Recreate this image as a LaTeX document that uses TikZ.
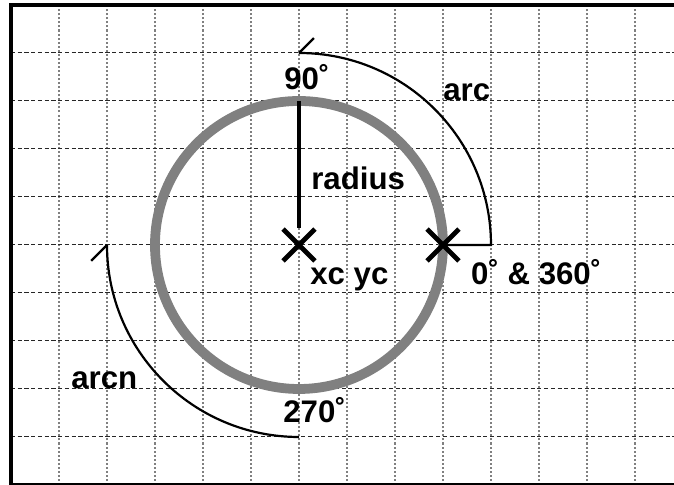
\documentclass[tikz,border=0pt]{standalone}
\usepackage{fontspec}
\setmainfont{Liberation Sans}
\begin{document}
\begin{tikzpicture}[x=1cm,y=1cm,
  lbl/.style={inner sep=0pt, anchor=base west, font=\fontsize{18.5}{20}\selectfont\bfseries},
  hgrid/.style={line width=0.6pt, dash pattern=on 2.4pt off 1.6pt, black!85},
  vgrid/.style={line width=0.8pt, dash pattern=on 1.2pt off 1.2pt, gray},
  ring/.style={line width=5.8pt, draw=gray},
  arcline/.style={line width=1.3pt},
  cross/.style={line width=2.8pt},
  frame/.style={line width=1.8pt}]
\useasboundingbox (-6.229,-5) rectangle (7.8125,5.104);
\clip (-6.229,-5) rectangle (7.8125,5.104);
% grid
\foreach \x in {-5,...,7} \draw[vgrid] (\x,-5) -- (\x,5);
\foreach \y in {-4,...,4} \draw[hgrid] (-6,\y) -- (8.5,\y);
% frame
\draw[frame] (8.5,-5) -- (-6,-5) -- (-6,5) -- (8.5,5);
% points
\coordinate (C) at (0,0);
\coordinate (P0) at (3,0);
\coordinate (A0) at (4,0);
\coordinate (A90) at (0,4);
\coordinate (N270) at (0,-4);
\coordinate (N180) at (-4,0);
\coordinate (Rtop) at (0,3);
\coordinate (Rbot) at (0,0.35);
% circle
\draw[ring] (C) circle[radius=3];
% radius
\draw[line width=2.6pt] (Rtop) -- (Rbot);
% arc
\draw[arcline] (P0) -- (A0) arc[start angle=0,end angle=90,radius=4];
\draw[arcline] (A90) -- ++(0.31,0.31);
% arcn
\draw[arcline] (N270) arc[start angle=270,end angle=180,radius=4];
\draw[arcline] (N180) -- ++(-0.33,-0.33);
% crosses
\foreach \p in {C,P0}
  \draw[cross] ([shift={(-0.333,-0.333)}]\p) -- ([shift={(0.333,0.333)}]\p)
               ([shift={(-0.333,0.333)}]\p) -- ([shift={(0.333,-0.333)}]\p);
% labels
\node[lbl] (l90) at (-0.3125,3.229) {90˚};
\node[lbl] (larc) at (3.0,3.0) {arc};
\node[lbl] (lrad) at (0.25,1.146) {radius};
\node[lbl] (lxy) at (0.229,-0.833) {xc yc};
\node[lbl] (l0) at (3.58,-0.833) {0˚ \& 360˚};
\node[lbl] (larcn) at (-4.75,-3.0) {arcn};
\node[lbl] (l270) at (-0.333,-3.69) {270˚};
\end{tikzpicture}
\end{document}
